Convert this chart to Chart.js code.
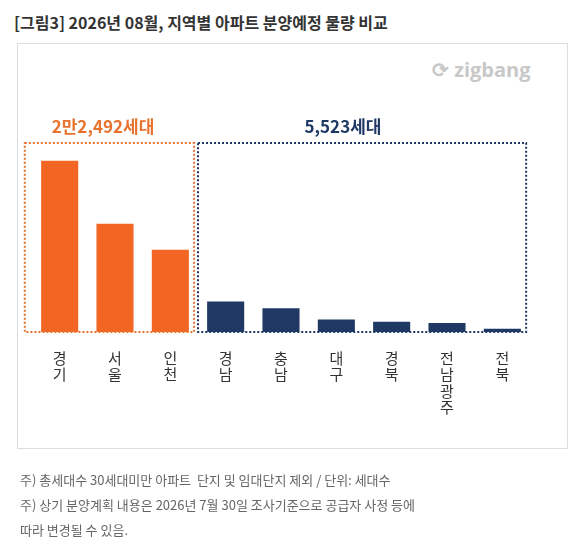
<!DOCTYPE html>
<html><head><meta charset="utf-8">
<script src="https://cdn.jsdelivr.net/npm/chart.js@4"></script>
<style>
body{margin:0;width:586px;height:553px;background:#fff;font-family:"Noto Sans CJK KR","Noto Sans",sans-serif;position:relative;overflow:hidden}
#t{position:absolute;left:14px;top:10px;font-size:16px;font-weight:bold;color:#333}
#box{position:absolute;left:17px;top:43px;width:551px;height:406px;border:1px solid #ddd;box-sizing:border-box}
#logo{position:absolute;left:432px;top:56px;font-size:20px;font-weight:bold;color:#c8c8c8;font-family:"Open Sans",sans-serif}
.f{position:absolute;left:20px;font-size:13px;color:#666}
canvas{position:absolute;left:0;top:0}
</style></head><body>
<div id="t">[그림3] 2026년 08월, 지역별 아파트 분양예정 물량 비교</div>
<div id="box"></div>
<div id="logo">⟳ zigbang</div>
<canvas id="c" width="586" height="553"></canvas>
<div class="f" style="top:470px">주) 총세대수 30세대미만 아파트 &nbsp;단지 및 임대단지 제외 / 단위: 세대수</div>
<div class="f" style="top:495px">주) 상기 분양계획 내용은 2026년 7월 30일 조사기준으로 공급자 사정 등에</div>
<div class="f" style="top:520px">따라 변경될 수 있음.</div>
<script>
const categories=["경기","서울","인천","경남","충남","대구","경북","전남광주","전북"];
const values=[10650,6730,5110,1890,1470,770,630,560,203];
const colors=["#f26522","#f26522","#f26522","#1f3864","#1f3864","#1f3864","#1f3864","#1f3864","#1f3864"];
const groupLabels=["2만2,492세대","5,523세대"];
const boxes={id:'boxes',afterDatasetsDraw(ch){
 const x=ch.scales.x,a=ch.chartArea,ctx=ch.ctx,cw=x.getPixelForValue(1)-x.getPixelForValue(0);
 const r=[[x.getPixelForValue(0)-cw*0.63,x.getPixelForValue(2)+cw*0.43,'#e8732f',groupLabels[0],103],
          [x.getPixelForValue(3)-cw*0.5,x.getPixelForValue(8)+cw*0.43,'#1f3864',groupLabels[1],343]];
 ctx.save();ctx.lineWidth=2;
 r.forEach(([l,rt,c,t,tx])=>{
  ctx.setLineDash([2,2]);ctx.strokeStyle=c;ctx.strokeRect(l,a.top+4,rt-l,a.bottom-a.top-4);
  ctx.setLineDash([]);ctx.fillStyle=c;ctx.font='bold 17px "Noto Sans CJK KR"';ctx.textAlign='center';ctx.textBaseline='middle';
  ctx.fillText(t,tx,a.top-12);
 });
 ctx.restore();}};
new Chart(document.getElementById('c'),{type:'bar',
 data:{labels:categories.map(s=>s.split('')),datasets:[{data:values,backgroundColor:colors,barPercentage:0.67,categoryPercentage:1}]},
 options:{responsive:false,animation:false,devicePixelRatio:1,
  layout:{padding:{left:32,right:56,top:139,bottom:121}},
  plugins:{legend:{display:false},tooltip:{enabled:false}},
  scales:{x:{grid:{display:false},border:{display:false},afterFit:s=>{s.height=100},
    ticks:{color:'#333',font:{size:15,family:'"Noto Sans CJK KR"',lineHeight:1.1},padding:10,maxRotation:0,autoSkip:false}},
   y:{display:false,min:0,max:12000}}},
 plugins:[boxes]});
</script>
</body></html>
